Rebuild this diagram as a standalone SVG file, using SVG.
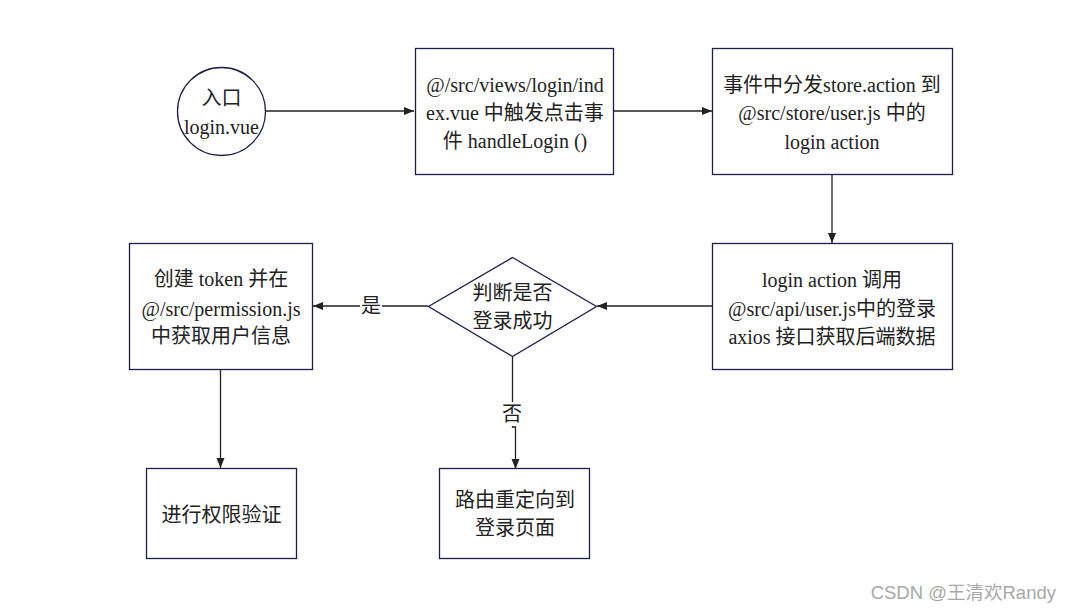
<svg xmlns="http://www.w3.org/2000/svg" width="1072" height="612" viewBox="0 0 1072 612">
<style>
.node{fill:#ffffff;stroke:#1b1f4b;stroke-width:1.3}
.t{font-family:"Liberation Serif","Noto Sans CJK SC",serif;font-size:20px;fill:#222;text-anchor:middle}
.edge{fill:none;stroke:#222;stroke-width:1.3}
.lbl{font-family:"Noto Sans CJK SC","Liberation Sans",sans-serif;font-size:20px;fill:#222;text-anchor:middle}
.wm{font-family:"Liberation Sans","Noto Sans CJK SC",sans-serif;font-size:18.5px;fill:#a8a8a8;text-anchor:end}
</style>
<defs>
<marker id="arr" viewBox="0 0 10 10" refX="10" refY="5" markerWidth="10" markerHeight="10" markerUnits="userSpaceOnUse" orient="auto">
<path d="M0,1 L10,5 L0,9 z" fill="#222"/>
</marker>
</defs>
<rect width="1072" height="612" fill="#ffffff"/>
<g id="connectors">
<path class="edge" d="M265,111 H414" marker-end="url(#arr)"/>
<path class="edge" d="M614,111 H712" marker-end="url(#arr)"/>
<path class="edge" d="M832,175 V243" marker-end="url(#arr)"/>
<path class="edge" d="M712,306 H597" marker-end="url(#arr)"/>
<path class="edge" d="M428,306 H313" marker-end="url(#arr)"/>
<path class="edge" d="M220.5,370 V468" marker-end="url(#arr)"/>
<path class="edge" d="M512.5,357 V427 H515.5 V469" marker-end="url(#arr)"/>
<rect x="360" y="294" width="22" height="24" fill="#ffffff"/>
<text class="lbl" x="371" y="313">是</text>
<rect x="501" y="402" width="22" height="24" fill="#ffffff"/>
<text class="lbl" x="512" y="421">否</text>
</g>
<g id="start">
<circle class="node" cx="221.5" cy="111.5" r="44"/>
<text class="t" x="221.5" y="105">入口</text>
<text class="t" x="221.5" y="134">login.vue</text>
</g>
<g id="click">
<rect class="node" x="415.5" y="48.5" width="198" height="126"/>
<text class="t" x="515" y="92">@/src/views/login/ind</text>
<text class="t" x="515" y="120">ex.vue 中触发点击事</text>
<text class="t" x="515" y="148">件 handleLogin ()</text>
</g>
<g id="dispatch">
<rect class="node" x="712.5" y="48.5" width="240" height="126"/>
<text class="t" x="832" y="92">事件中分发store.action 到</text>
<text class="t" x="832" y="120">@src/store/user.js 中的</text>
<text class="t" x="832" y="149">login action</text>
</g>
<g id="api">
<rect class="node" x="712.5" y="243.5" width="240" height="126"/>
<text class="t" x="832" y="287">login action 调用</text>
<text class="t" x="832" y="316">@src/api/user.js中的登录</text>
<text class="t" x="832" y="344">axios 接口获取后端数据</text>
</g>
<g id="decision">
<polygon class="node" points="512.5,257.5 596.5,306.5 512.5,356.5 428.5,306.5"/>
<text class="t" x="512.5" y="300">判断是否</text>
<text class="t" x="512.5" y="328">登录成功</text>
</g>
<g id="token">
<rect class="node" x="129.5" y="243.5" width="183" height="126"/>
<text class="t" x="221" y="286">创建 token 并在</text>
<text class="t" x="221" y="316">@/src/permission.js</text>
<text class="t" x="221" y="343">中获取用户信息</text>
</g>
<g id="auth">
<rect class="node" x="146.5" y="468.5" width="150" height="90"/>
<text class="t" x="221.5" y="522">进行权限验证</text>
</g>
<g id="redirect">
<rect class="node" x="439.5" y="468.5" width="150" height="90"/>
<text class="t" x="515" y="507">路由重定向到</text>
<text class="t" x="515" y="535">登录页面</text>
</g>
<text class="wm" x="1056" y="599">CSDN @王清欢Randy</text>
</svg>
